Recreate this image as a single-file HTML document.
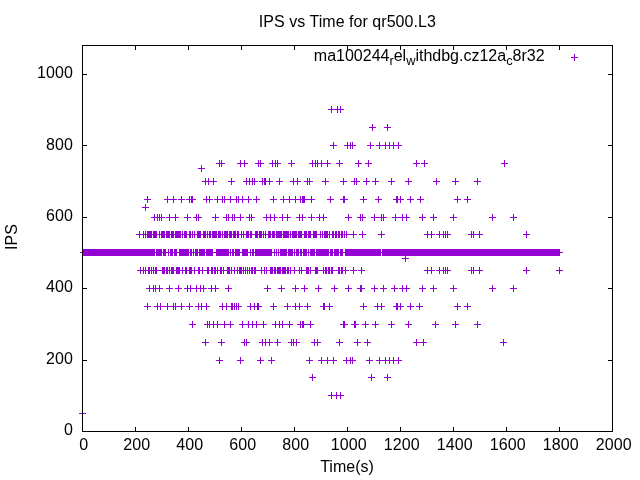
<!DOCTYPE html>
<html><head><meta charset="utf-8"><title>IPS vs Time for qr500.L3</title>
<style>
html,body{margin:0;padding:0;background:#fff;}
body{width:640px;height:480px;overflow:hidden;}
svg{display:block;will-change:transform;}
text{font-family:"Liberation Sans",sans-serif;font-size:16px;fill:#000;}
</style></head><body>
<svg width="640" height="480" viewBox="0 0 640 480">
<rect x="0" y="0" width="640" height="480" fill="#fff"/>
<g fill="#9400d3" shape-rendering="crispEdges">
<rect x="331" y="106" width="1" height="7"/><rect x="337" y="106" width="1" height="7"/><rect x="340" y="106" width="1" height="7"/><rect x="328" y="109" width="16" height="1"/>
<rect x="372" y="124" width="1" height="7"/><rect x="387" y="124" width="1" height="7"/><rect x="369" y="127" width="7" height="1"/><rect x="384" y="127" width="7" height="1"/>
<rect x="333" y="142" width="1" height="7"/><rect x="347" y="142" width="1" height="7"/><rect x="350" y="142" width="1" height="7"/><rect x="352" y="142" width="1" height="7"/><rect x="370" y="142" width="1" height="7"/><rect x="379" y="142" width="1" height="7"/><rect x="385" y="142" width="1" height="7"/><rect x="389" y="142" width="1" height="7"/><rect x="393" y="142" width="1" height="7"/><rect x="398" y="142" width="1" height="7"/><rect x="330" y="145" width="7" height="1"/><rect x="344" y="145" width="12" height="1"/><rect x="367" y="145" width="7" height="1"/><rect x="376" y="145" width="26" height="1"/>
<rect x="219" y="160" width="1" height="7"/><rect x="221" y="160" width="1" height="7"/><rect x="240" y="160" width="1" height="7"/><rect x="244" y="160" width="1" height="7"/><rect x="258" y="160" width="1" height="7"/><rect x="260" y="160" width="1" height="7"/><rect x="272" y="160" width="1" height="7"/><rect x="275" y="160" width="1" height="7"/><rect x="277" y="160" width="1" height="7"/><rect x="291" y="160" width="1" height="7"/><rect x="312" y="160" width="1" height="7"/><rect x="315" y="160" width="1" height="7"/><rect x="317" y="160" width="1" height="7"/><rect x="321" y="160" width="1" height="7"/><rect x="327" y="160" width="1" height="7"/><rect x="339" y="160" width="1" height="7"/><rect x="358" y="160" width="1" height="7"/><rect x="368" y="160" width="1" height="7"/><rect x="416" y="160" width="1" height="7"/><rect x="424" y="160" width="1" height="7"/><rect x="504" y="160" width="1" height="7"/><rect x="216" y="163" width="9" height="1"/><rect x="237" y="163" width="11" height="1"/><rect x="255" y="163" width="9" height="1"/><rect x="269" y="163" width="12" height="1"/><rect x="288" y="163" width="7" height="1"/><rect x="309" y="163" width="22" height="1"/><rect x="336" y="163" width="7" height="1"/><rect x="355" y="163" width="7" height="1"/><rect x="365" y="163" width="7" height="1"/><rect x="413" y="163" width="7" height="1"/><rect x="421" y="163" width="7" height="1"/><rect x="501" y="163" width="7" height="1"/>
<rect x="201" y="165" width="1" height="7"/><rect x="198" y="168" width="7" height="1"/>
<rect x="205" y="178" width="1" height="7"/><rect x="208" y="178" width="1" height="7"/><rect x="213" y="178" width="1" height="7"/><rect x="231" y="178" width="1" height="7"/><rect x="246" y="178" width="1" height="7"/><rect x="249" y="178" width="1" height="7"/><rect x="252" y="178" width="1" height="7"/><rect x="254" y="178" width="1" height="7"/><rect x="262" y="178" width="1" height="7"/><rect x="264" y="178" width="2" height="7"/><rect x="269" y="178" width="1" height="7"/><rect x="279" y="178" width="1" height="7"/><rect x="293" y="178" width="1" height="7"/><rect x="297" y="178" width="1" height="7"/><rect x="307" y="178" width="1" height="7"/><rect x="309" y="178" width="1" height="7"/><rect x="325" y="178" width="1" height="7"/><rect x="343" y="178" width="1" height="7"/><rect x="354" y="178" width="1" height="7"/><rect x="356" y="178" width="1" height="7"/><rect x="366" y="178" width="1" height="7"/><rect x="375" y="178" width="1" height="7"/><rect x="391" y="178" width="1" height="7"/><rect x="408" y="178" width="1" height="7"/><rect x="436" y="178" width="1" height="7"/><rect x="455" y="178" width="1" height="7"/><rect x="477" y="178" width="1" height="7"/><rect x="202" y="181" width="15" height="1"/><rect x="228" y="181" width="7" height="1"/><rect x="243" y="181" width="15" height="1"/><rect x="259" y="181" width="14" height="1"/><rect x="276" y="181" width="7" height="1"/><rect x="290" y="181" width="11" height="1"/><rect x="304" y="181" width="9" height="1"/><rect x="322" y="181" width="7" height="1"/><rect x="340" y="181" width="7" height="1"/><rect x="351" y="181" width="9" height="1"/><rect x="363" y="181" width="7" height="1"/><rect x="372" y="181" width="7" height="1"/><rect x="388" y="181" width="7" height="1"/><rect x="405" y="181" width="7" height="1"/><rect x="433" y="181" width="7" height="1"/><rect x="452" y="181" width="7" height="1"/><rect x="474" y="181" width="7" height="1"/>
<rect x="147" y="196" width="1" height="7"/><rect x="167" y="196" width="1" height="7"/><rect x="173" y="196" width="1" height="7"/><rect x="181" y="196" width="1" height="7"/><rect x="189" y="196" width="1" height="7"/><rect x="191" y="196" width="2" height="7"/><rect x="206" y="196" width="1" height="7"/><rect x="209" y="196" width="1" height="7"/><rect x="217" y="196" width="1" height="7"/><rect x="222" y="196" width="1" height="7"/><rect x="224" y="196" width="1" height="7"/><rect x="230" y="196" width="1" height="7"/><rect x="236" y="196" width="1" height="7"/><rect x="238" y="196" width="1" height="7"/><rect x="242" y="196" width="1" height="7"/><rect x="248" y="196" width="1" height="7"/><rect x="256" y="196" width="1" height="7"/><rect x="273" y="196" width="1" height="7"/><rect x="283" y="196" width="1" height="7"/><rect x="289" y="196" width="1" height="7"/><rect x="295" y="196" width="1" height="7"/><rect x="300" y="196" width="1" height="7"/><rect x="302" y="196" width="3" height="7"/><rect x="311" y="196" width="1" height="7"/><rect x="330" y="196" width="1" height="7"/><rect x="343" y="196" width="2" height="7"/><rect x="363" y="196" width="1" height="7"/><rect x="378" y="196" width="1" height="7"/><rect x="396" y="196" width="2" height="7"/><rect x="400" y="196" width="1" height="7"/><rect x="410" y="196" width="1" height="7"/><rect x="420" y="196" width="1" height="7"/><rect x="457" y="196" width="1" height="7"/><rect x="467" y="196" width="1" height="7"/><rect x="144" y="199" width="7" height="1"/><rect x="164" y="199" width="13" height="1"/><rect x="178" y="199" width="7" height="1"/><rect x="186" y="199" width="10" height="1"/><rect x="203" y="199" width="10" height="1"/><rect x="214" y="199" width="38" height="1"/><rect x="253" y="199" width="7" height="1"/><rect x="270" y="199" width="7" height="1"/><rect x="280" y="199" width="35" height="1"/><rect x="327" y="199" width="7" height="1"/><rect x="340" y="199" width="8" height="1"/><rect x="360" y="199" width="7" height="1"/><rect x="375" y="199" width="7" height="1"/><rect x="393" y="199" width="11" height="1"/><rect x="407" y="199" width="7" height="1"/><rect x="417" y="199" width="7" height="1"/><rect x="454" y="199" width="7" height="1"/><rect x="464" y="199" width="7" height="1"/>
<rect x="145" y="204" width="1" height="7"/><rect x="142" y="207" width="7" height="1"/>
<rect x="154" y="214" width="1" height="7"/><rect x="157" y="214" width="1" height="7"/><rect x="159" y="214" width="1" height="7"/><rect x="161" y="214" width="1" height="7"/><rect x="169" y="214" width="1" height="7"/><rect x="175" y="214" width="1" height="7"/><rect x="187" y="214" width="1" height="7"/><rect x="196" y="214" width="1" height="7"/><rect x="198" y="214" width="1" height="7"/><rect x="215" y="214" width="1" height="7"/><rect x="226" y="214" width="1" height="7"/><rect x="228" y="214" width="1" height="7"/><rect x="232" y="214" width="1" height="7"/><rect x="234" y="214" width="1" height="7"/><rect x="240" y="214" width="1" height="7"/><rect x="249" y="214" width="1" height="7"/><rect x="251" y="214" width="1" height="7"/><rect x="266" y="214" width="1" height="7"/><rect x="270" y="214" width="1" height="7"/><rect x="274" y="214" width="1" height="7"/><rect x="282" y="214" width="1" height="7"/><rect x="287" y="214" width="1" height="7"/><rect x="299" y="214" width="1" height="7"/><rect x="302" y="214" width="1" height="7"/><rect x="311" y="214" width="1" height="7"/><rect x="319" y="214" width="1" height="7"/><rect x="323" y="214" width="1" height="7"/><rect x="348" y="214" width="1" height="7"/><rect x="360" y="214" width="1" height="7"/><rect x="362" y="214" width="1" height="7"/><rect x="374" y="214" width="1" height="7"/><rect x="381" y="214" width="1" height="7"/><rect x="383" y="214" width="1" height="7"/><rect x="395" y="214" width="1" height="7"/><rect x="402" y="214" width="1" height="7"/><rect x="406" y="214" width="1" height="7"/><rect x="422" y="214" width="1" height="7"/><rect x="433" y="214" width="1" height="7"/><rect x="453" y="214" width="1" height="7"/><rect x="492" y="214" width="1" height="7"/><rect x="513" y="214" width="1" height="7"/><rect x="151" y="217" width="14" height="1"/><rect x="166" y="217" width="13" height="1"/><rect x="184" y="217" width="7" height="1"/><rect x="193" y="217" width="9" height="1"/><rect x="212" y="217" width="7" height="1"/><rect x="223" y="217" width="21" height="1"/><rect x="246" y="217" width="9" height="1"/><rect x="263" y="217" width="15" height="1"/><rect x="279" y="217" width="12" height="1"/><rect x="296" y="217" width="10" height="1"/><rect x="308" y="217" width="7" height="1"/><rect x="316" y="217" width="11" height="1"/><rect x="345" y="217" width="7" height="1"/><rect x="357" y="217" width="9" height="1"/><rect x="371" y="217" width="16" height="1"/><rect x="392" y="217" width="18" height="1"/><rect x="419" y="217" width="7" height="1"/><rect x="430" y="217" width="7" height="1"/><rect x="450" y="217" width="7" height="1"/><rect x="489" y="217" width="7" height="1"/><rect x="510" y="217" width="7" height="1"/>
<rect x="139" y="231" width="1" height="7"/><rect x="143" y="231" width="1" height="7"/><rect x="145" y="231" width="1" height="7"/><rect x="147" y="231" width="5" height="7"/><rect x="153" y="231" width="4" height="7"/><rect x="159" y="231" width="1" height="7"/><rect x="161" y="231" width="4" height="7"/><rect x="166" y="231" width="4" height="7"/><rect x="171" y="231" width="3" height="7"/><rect x="175" y="231" width="6" height="7"/><rect x="182" y="231" width="1" height="7"/><rect x="184" y="231" width="3" height="7"/><rect x="189" y="231" width="2" height="7"/><rect x="192" y="231" width="1" height="7"/><rect x="194" y="231" width="1" height="7"/><rect x="197" y="231" width="4" height="7"/><rect x="203" y="231" width="3" height="7"/><rect x="207" y="231" width="1" height="7"/><rect x="209" y="231" width="2" height="7"/><rect x="212" y="231" width="5" height="7"/><rect x="218" y="231" width="3" height="7"/><rect x="222" y="231" width="1" height="7"/><rect x="224" y="231" width="4" height="7"/><rect x="229" y="231" width="3" height="7"/><rect x="233" y="231" width="3" height="7"/><rect x="237" y="231" width="2" height="7"/><rect x="241" y="231" width="1" height="7"/><rect x="243" y="231" width="1" height="7"/><rect x="246" y="231" width="3" height="7"/><rect x="250" y="231" width="2" height="7"/><rect x="255" y="231" width="3" height="7"/><rect x="259" y="231" width="3" height="7"/><rect x="263" y="231" width="1" height="7"/><rect x="265" y="231" width="1" height="7"/><rect x="268" y="231" width="3" height="7"/><rect x="272" y="231" width="3" height="7"/><rect x="276" y="231" width="6" height="7"/><rect x="283" y="231" width="6" height="7"/><rect x="290" y="231" width="1" height="7"/><rect x="292" y="231" width="5" height="7"/><rect x="298" y="231" width="4" height="7"/><rect x="304" y="231" width="3" height="7"/><rect x="308" y="231" width="3" height="7"/><rect x="313" y="231" width="4" height="7"/><rect x="320" y="231" width="1" height="7"/><rect x="322" y="231" width="1" height="7"/><rect x="324" y="231" width="4" height="7"/><rect x="329" y="231" width="1" height="7"/><rect x="332" y="231" width="2" height="7"/><rect x="335" y="231" width="2" height="7"/><rect x="338" y="231" width="2" height="7"/><rect x="341" y="231" width="2" height="7"/><rect x="344" y="231" width="1" height="7"/><rect x="346" y="231" width="1" height="7"/><rect x="353" y="231" width="1" height="7"/><rect x="362" y="231" width="1" height="7"/><rect x="381" y="231" width="1" height="7"/><rect x="427" y="231" width="1" height="7"/><rect x="431" y="231" width="1" height="7"/><rect x="439" y="231" width="1" height="7"/><rect x="443" y="231" width="1" height="7"/><rect x="445" y="231" width="1" height="7"/><rect x="447" y="231" width="1" height="7"/><rect x="471" y="231" width="1" height="7"/><rect x="473" y="231" width="1" height="7"/><rect x="479" y="231" width="1" height="7"/><rect x="526" y="231" width="1" height="7"/><rect x="136" y="234" width="221" height="1"/><rect x="359" y="234" width="7" height="1"/><rect x="378" y="234" width="7" height="1"/><rect x="424" y="234" width="11" height="1"/><rect x="436" y="234" width="15" height="1"/><rect x="468" y="234" width="15" height="1"/><rect x="523" y="234" width="7" height="1"/>
<rect x="83" y="249" width="72" height="7"/><rect x="156" y="249" width="6" height="7"/><rect x="163" y="249" width="3" height="7"/><rect x="168" y="249" width="1" height="7"/><rect x="170" y="249" width="3" height="7"/><rect x="174" y="249" width="3" height="7"/><rect x="179" y="249" width="10" height="7"/><rect x="190" y="249" width="2" height="7"/><rect x="193" y="249" width="1" height="7"/><rect x="195" y="249" width="3" height="7"/><rect x="199" y="249" width="6" height="7"/><rect x="206" y="249" width="7" height="7"/><rect x="216" y="249" width="13" height="7"/><rect x="230" y="249" width="1" height="7"/><rect x="232" y="249" width="2" height="7"/><rect x="235" y="249" width="5" height="7"/><rect x="242" y="249" width="6" height="7"/><rect x="250" y="249" width="1" height="7"/><rect x="252" y="249" width="2" height="7"/><rect x="255" y="249" width="17" height="7"/><rect x="274" y="249" width="1" height="7"/><rect x="276" y="249" width="1" height="7"/><rect x="278" y="249" width="1" height="7"/><rect x="280" y="249" width="7" height="7"/><rect x="288" y="249" width="5" height="7"/><rect x="294" y="249" width="1" height="7"/><rect x="296" y="249" width="3" height="7"/><rect x="300" y="249" width="2" height="7"/><rect x="303" y="249" width="4" height="7"/><rect x="308" y="249" width="1" height="7"/><rect x="310" y="249" width="5" height="7"/><rect x="316" y="249" width="13" height="7"/><rect x="330" y="249" width="3" height="7"/><rect x="334" y="249" width="5" height="7"/><rect x="340" y="249" width="3" height="7"/><rect x="345" y="249" width="36" height="7"/><rect x="382" y="249" width="178" height="7"/><rect x="80" y="252" width="483" height="1"/>
<rect x="405" y="255" width="1" height="7"/><rect x="402" y="258" width="7" height="1"/>
<rect x="140" y="267" width="1" height="7"/><rect x="143" y="267" width="1" height="7"/><rect x="145" y="267" width="1" height="7"/><rect x="148" y="267" width="2" height="7"/><rect x="151" y="267" width="1" height="7"/><rect x="153" y="267" width="1" height="7"/><rect x="155" y="267" width="2" height="7"/><rect x="162" y="267" width="3" height="7"/><rect x="166" y="267" width="2" height="7"/><rect x="169" y="267" width="1" height="7"/><rect x="171" y="267" width="3" height="7"/><rect x="176" y="267" width="4" height="7"/><rect x="182" y="267" width="1" height="7"/><rect x="185" y="267" width="2" height="7"/><rect x="189" y="267" width="3" height="7"/><rect x="194" y="267" width="1" height="7"/><rect x="198" y="267" width="2" height="7"/><rect x="202" y="267" width="1" height="7"/><rect x="207" y="267" width="2" height="7"/><rect x="211" y="267" width="2" height="7"/><rect x="214" y="267" width="2" height="7"/><rect x="217" y="267" width="1" height="7"/><rect x="220" y="267" width="2" height="7"/><rect x="223" y="267" width="1" height="7"/><rect x="227" y="267" width="3" height="7"/><rect x="231" y="267" width="1" height="7"/><rect x="234" y="267" width="1" height="7"/><rect x="237" y="267" width="1" height="7"/><rect x="239" y="267" width="3" height="7"/><rect x="243" y="267" width="1" height="7"/><rect x="245" y="267" width="1" height="7"/><rect x="247" y="267" width="1" height="7"/><rect x="249" y="267" width="1" height="7"/><rect x="251" y="267" width="2" height="7"/><rect x="254" y="267" width="2" height="7"/><rect x="261" y="267" width="1" height="7"/><rect x="264" y="267" width="1" height="7"/><rect x="266" y="267" width="1" height="7"/><rect x="270" y="267" width="3" height="7"/><rect x="274" y="267" width="2" height="7"/><rect x="277" y="267" width="4" height="7"/><rect x="282" y="267" width="4" height="7"/><rect x="287" y="267" width="2" height="7"/><rect x="290" y="267" width="1" height="7"/><rect x="294" y="267" width="1" height="7"/><rect x="299" y="267" width="1" height="7"/><rect x="301" y="267" width="1" height="7"/><rect x="306" y="267" width="3" height="7"/><rect x="310" y="267" width="1" height="7"/><rect x="315" y="267" width="3" height="7"/><rect x="323" y="267" width="1" height="7"/><rect x="325" y="267" width="2" height="7"/><rect x="328" y="267" width="2" height="7"/><rect x="331" y="267" width="2" height="7"/><rect x="338" y="267" width="2" height="7"/><rect x="341" y="267" width="2" height="7"/><rect x="345" y="267" width="1" height="7"/><rect x="353" y="267" width="1" height="7"/><rect x="361" y="267" width="1" height="7"/><rect x="427" y="267" width="1" height="7"/><rect x="431" y="267" width="1" height="7"/><rect x="439" y="267" width="1" height="7"/><rect x="443" y="267" width="1" height="7"/><rect x="445" y="267" width="1" height="7"/><rect x="447" y="267" width="1" height="7"/><rect x="471" y="267" width="1" height="7"/><rect x="473" y="267" width="1" height="7"/><rect x="479" y="267" width="1" height="7"/><rect x="526" y="267" width="1" height="7"/><rect x="559" y="267" width="1" height="7"/><rect x="137" y="270" width="212" height="1"/><rect x="350" y="270" width="7" height="1"/><rect x="358" y="270" width="7" height="1"/><rect x="424" y="270" width="11" height="1"/><rect x="436" y="270" width="15" height="1"/><rect x="468" y="270" width="15" height="1"/><rect x="523" y="270" width="7" height="1"/><rect x="556" y="270" width="7" height="1"/>
<rect x="149" y="285" width="1" height="7"/><rect x="153" y="285" width="1" height="7"/><rect x="155" y="285" width="1" height="7"/><rect x="159" y="285" width="1" height="7"/><rect x="169" y="285" width="1" height="7"/><rect x="178" y="285" width="1" height="7"/><rect x="187" y="285" width="1" height="7"/><rect x="190" y="285" width="1" height="7"/><rect x="196" y="285" width="1" height="7"/><rect x="200" y="285" width="1" height="7"/><rect x="203" y="285" width="1" height="7"/><rect x="211" y="285" width="1" height="7"/><rect x="215" y="285" width="1" height="7"/><rect x="228" y="285" width="1" height="7"/><rect x="267" y="285" width="1" height="7"/><rect x="281" y="285" width="1" height="7"/><rect x="295" y="285" width="1" height="7"/><rect x="304" y="285" width="1" height="7"/><rect x="318" y="285" width="1" height="7"/><rect x="334" y="285" width="1" height="7"/><rect x="348" y="285" width="1" height="7"/><rect x="360" y="285" width="2" height="7"/><rect x="374" y="285" width="1" height="7"/><rect x="383" y="285" width="1" height="7"/><rect x="394" y="285" width="1" height="7"/><rect x="402" y="285" width="1" height="7"/><rect x="406" y="285" width="1" height="7"/><rect x="422" y="285" width="1" height="7"/><rect x="433" y="285" width="1" height="7"/><rect x="453" y="285" width="1" height="7"/><rect x="492" y="285" width="1" height="7"/><rect x="513" y="285" width="1" height="7"/><rect x="146" y="288" width="17" height="1"/><rect x="166" y="288" width="7" height="1"/><rect x="175" y="288" width="7" height="1"/><rect x="184" y="288" width="23" height="1"/><rect x="208" y="288" width="11" height="1"/><rect x="225" y="288" width="7" height="1"/><rect x="264" y="288" width="7" height="1"/><rect x="278" y="288" width="7" height="1"/><rect x="292" y="288" width="7" height="1"/><rect x="301" y="288" width="7" height="1"/><rect x="315" y="288" width="7" height="1"/><rect x="331" y="288" width="7" height="1"/><rect x="345" y="288" width="7" height="1"/><rect x="357" y="288" width="8" height="1"/><rect x="371" y="288" width="7" height="1"/><rect x="380" y="288" width="7" height="1"/><rect x="391" y="288" width="7" height="1"/><rect x="399" y="288" width="11" height="1"/><rect x="419" y="288" width="7" height="1"/><rect x="430" y="288" width="7" height="1"/><rect x="450" y="288" width="7" height="1"/><rect x="489" y="288" width="7" height="1"/><rect x="510" y="288" width="7" height="1"/>
<rect x="147" y="303" width="1" height="7"/><rect x="157" y="303" width="1" height="7"/><rect x="160" y="303" width="1" height="7"/><rect x="167" y="303" width="1" height="7"/><rect x="173" y="303" width="1" height="7"/><rect x="175" y="303" width="1" height="7"/><rect x="181" y="303" width="1" height="7"/><rect x="189" y="303" width="1" height="7"/><rect x="198" y="303" width="1" height="7"/><rect x="201" y="303" width="1" height="7"/><rect x="206" y="303" width="1" height="7"/><rect x="222" y="303" width="1" height="7"/><rect x="226" y="303" width="1" height="7"/><rect x="231" y="303" width="2" height="7"/><rect x="234" y="303" width="1" height="7"/><rect x="236" y="303" width="1" height="7"/><rect x="238" y="303" width="1" height="7"/><rect x="250" y="303" width="1" height="7"/><rect x="254" y="303" width="1" height="7"/><rect x="257" y="303" width="2" height="7"/><rect x="273" y="303" width="1" height="7"/><rect x="287" y="303" width="1" height="7"/><rect x="295" y="303" width="1" height="7"/><rect x="299" y="303" width="1" height="7"/><rect x="307" y="303" width="1" height="7"/><rect x="323" y="303" width="2" height="7"/><rect x="329" y="303" width="1" height="7"/><rect x="363" y="303" width="1" height="7"/><rect x="377" y="303" width="1" height="7"/><rect x="381" y="303" width="1" height="7"/><rect x="396" y="303" width="2" height="7"/><rect x="400" y="303" width="1" height="7"/><rect x="410" y="303" width="1" height="7"/><rect x="419" y="303" width="1" height="7"/><rect x="457" y="303" width="1" height="7"/><rect x="467" y="303" width="1" height="7"/><rect x="144" y="306" width="7" height="1"/><rect x="154" y="306" width="31" height="1"/><rect x="186" y="306" width="7" height="1"/><rect x="195" y="306" width="15" height="1"/><rect x="219" y="306" width="23" height="1"/><rect x="247" y="306" width="15" height="1"/><rect x="270" y="306" width="7" height="1"/><rect x="284" y="306" width="7" height="1"/><rect x="292" y="306" width="11" height="1"/><rect x="304" y="306" width="7" height="1"/><rect x="320" y="306" width="13" height="1"/><rect x="360" y="306" width="7" height="1"/><rect x="374" y="306" width="11" height="1"/><rect x="393" y="306" width="11" height="1"/><rect x="407" y="306" width="7" height="1"/><rect x="416" y="306" width="7" height="1"/><rect x="454" y="306" width="7" height="1"/><rect x="464" y="306" width="7" height="1"/>
<rect x="192" y="321" width="1" height="7"/><rect x="207" y="321" width="1" height="7"/><rect x="209" y="321" width="1" height="7"/><rect x="213" y="321" width="1" height="7"/><rect x="217" y="321" width="1" height="7"/><rect x="224" y="321" width="1" height="7"/><rect x="230" y="321" width="1" height="7"/><rect x="242" y="321" width="1" height="7"/><rect x="248" y="321" width="1" height="7"/><rect x="252" y="321" width="1" height="7"/><rect x="256" y="321" width="1" height="7"/><rect x="263" y="321" width="1" height="7"/><rect x="275" y="321" width="1" height="7"/><rect x="279" y="321" width="1" height="7"/><rect x="282" y="321" width="1" height="7"/><rect x="289" y="321" width="1" height="7"/><rect x="300" y="321" width="1" height="7"/><rect x="302" y="321" width="2" height="7"/><rect x="310" y="321" width="1" height="7"/><rect x="343" y="321" width="2" height="7"/><rect x="354" y="321" width="2" height="7"/><rect x="365" y="321" width="1" height="7"/><rect x="375" y="321" width="1" height="7"/><rect x="391" y="321" width="1" height="7"/><rect x="408" y="321" width="1" height="7"/><rect x="435" y="321" width="1" height="7"/><rect x="455" y="321" width="1" height="7"/><rect x="477" y="321" width="1" height="7"/><rect x="189" y="324" width="7" height="1"/><rect x="204" y="324" width="30" height="1"/><rect x="239" y="324" width="28" height="1"/><rect x="272" y="324" width="21" height="1"/><rect x="297" y="324" width="17" height="1"/><rect x="340" y="324" width="8" height="1"/><rect x="351" y="324" width="8" height="1"/><rect x="362" y="324" width="7" height="1"/><rect x="372" y="324" width="7" height="1"/><rect x="388" y="324" width="7" height="1"/><rect x="405" y="324" width="7" height="1"/><rect x="432" y="324" width="7" height="1"/><rect x="452" y="324" width="7" height="1"/><rect x="474" y="324" width="7" height="1"/>
<rect x="205" y="339" width="1" height="7"/><rect x="221" y="339" width="1" height="7"/><rect x="244" y="339" width="1" height="7"/><rect x="246" y="339" width="1" height="7"/><rect x="262" y="339" width="1" height="7"/><rect x="265" y="339" width="1" height="7"/><rect x="269" y="339" width="1" height="7"/><rect x="277" y="339" width="1" height="7"/><rect x="291" y="339" width="1" height="7"/><rect x="293" y="339" width="1" height="7"/><rect x="296" y="339" width="1" height="7"/><rect x="314" y="339" width="1" height="7"/><rect x="317" y="339" width="1" height="7"/><rect x="339" y="339" width="1" height="7"/><rect x="357" y="339" width="1" height="7"/><rect x="367" y="339" width="1" height="7"/><rect x="416" y="339" width="1" height="7"/><rect x="423" y="339" width="1" height="7"/><rect x="503" y="339" width="1" height="7"/><rect x="202" y="342" width="7" height="1"/><rect x="218" y="342" width="7" height="1"/><rect x="241" y="342" width="9" height="1"/><rect x="259" y="342" width="14" height="1"/><rect x="274" y="342" width="7" height="1"/><rect x="288" y="342" width="12" height="1"/><rect x="311" y="342" width="10" height="1"/><rect x="336" y="342" width="7" height="1"/><rect x="354" y="342" width="7" height="1"/><rect x="364" y="342" width="7" height="1"/><rect x="413" y="342" width="14" height="1"/><rect x="500" y="342" width="7" height="1"/>
<rect x="219" y="357" width="1" height="7"/><rect x="240" y="357" width="1" height="7"/><rect x="260" y="357" width="1" height="7"/><rect x="271" y="357" width="1" height="7"/><rect x="309" y="357" width="1" height="7"/><rect x="321" y="357" width="1" height="7"/><rect x="327" y="357" width="1" height="7"/><rect x="333" y="357" width="1" height="7"/><rect x="346" y="357" width="1" height="7"/><rect x="350" y="357" width="1" height="7"/><rect x="352" y="357" width="1" height="7"/><rect x="369" y="357" width="1" height="7"/><rect x="379" y="357" width="1" height="7"/><rect x="385" y="357" width="1" height="7"/><rect x="389" y="357" width="1" height="7"/><rect x="393" y="357" width="1" height="7"/><rect x="398" y="357" width="1" height="7"/><rect x="216" y="360" width="7" height="1"/><rect x="237" y="360" width="7" height="1"/><rect x="257" y="360" width="7" height="1"/><rect x="268" y="360" width="7" height="1"/><rect x="306" y="360" width="7" height="1"/><rect x="318" y="360" width="19" height="1"/><rect x="343" y="360" width="13" height="1"/><rect x="366" y="360" width="7" height="1"/><rect x="376" y="360" width="26" height="1"/>
<rect x="312" y="374" width="1" height="7"/><rect x="371" y="374" width="1" height="7"/><rect x="387" y="374" width="1" height="7"/><rect x="309" y="377" width="7" height="1"/><rect x="368" y="377" width="7" height="1"/><rect x="384" y="377" width="7" height="1"/>
<rect x="331" y="392" width="1" height="7"/><rect x="336" y="392" width="1" height="7"/><rect x="340" y="392" width="1" height="7"/><rect x="328" y="395" width="16" height="1"/>
<rect x="82" y="410" width="1" height="7"/><rect x="79" y="413" width="7" height="1"/>
</g>
<g fill="#9400d3" shape-rendering="crispEdges"><rect x="571" y="57" width="7" height="1"/><rect x="574" y="54" width="1" height="7"/></g>
<g fill="#000" shape-rendering="crispEdges">
<rect x="82" y="45" width="531" height="1"/><rect x="82" y="431" width="531" height="1"/><rect x="82" y="45" width="1" height="387"/><rect x="612" y="45" width="1" height="387"/>
<rect x="135" y="427" width="1" height="5"/><rect x="135" y="45" width="1" height="5"/><rect x="188" y="427" width="1" height="5"/><rect x="188" y="45" width="1" height="5"/><rect x="241" y="427" width="1" height="5"/><rect x="241" y="45" width="1" height="5"/><rect x="294" y="427" width="1" height="5"/><rect x="294" y="45" width="1" height="5"/><rect x="347" y="427" width="1" height="5"/><rect x="347" y="45" width="1" height="5"/><rect x="400" y="427" width="1" height="5"/><rect x="400" y="45" width="1" height="5"/><rect x="453" y="427" width="1" height="5"/><rect x="453" y="45" width="1" height="5"/><rect x="506" y="427" width="1" height="5"/><rect x="506" y="45" width="1" height="5"/><rect x="559" y="427" width="1" height="5"/><rect x="559" y="45" width="1" height="5"/>
<rect x="82" y="360" width="5" height="1"/><rect x="608" y="360" width="5" height="1"/><rect x="82" y="288" width="5" height="1"/><rect x="608" y="288" width="5" height="1"/><rect x="82" y="217" width="5" height="1"/><rect x="608" y="217" width="5" height="1"/><rect x="82" y="145" width="5" height="1"/><rect x="608" y="145" width="5" height="1"/><rect x="82" y="74" width="5" height="1"/><rect x="608" y="74" width="5" height="1"/>
</g>
<g>
<text x="83.7" y="450.2" text-anchor="middle" textLength="9">0</text><text x="136.7" y="450.2" text-anchor="middle" textLength="27">200</text><text x="189.7" y="450.2" text-anchor="middle" textLength="27">400</text><text x="242.7" y="450.2" text-anchor="middle" textLength="27">600</text><text x="295.7" y="450.2" text-anchor="middle" textLength="27">800</text><text x="348.7" y="450.2" text-anchor="middle" textLength="36">1000</text><text x="401.7" y="450.2" text-anchor="middle" textLength="36">1200</text><text x="454.7" y="450.2" text-anchor="middle" textLength="36">1400</text><text x="507.7" y="450.2" text-anchor="middle" textLength="36">1600</text><text x="560.7" y="450.2" text-anchor="middle" textLength="36">1800</text><text x="613.7" y="450.2" text-anchor="middle" textLength="36">2000</text>
<text x="72.9" y="435.2" text-anchor="end" textLength="9">0</text><text x="72.9" y="363.8" text-anchor="end" textLength="27">200</text><text x="72.9" y="292.4" text-anchor="end" textLength="27">400</text><text x="72.9" y="221.0" text-anchor="end" textLength="27">600</text><text x="72.9" y="149.6" text-anchor="end" textLength="27">800</text><text x="72.9" y="78.2" text-anchor="end" textLength="36">1000</text>
<text x="347.3" y="26.8" text-anchor="middle" textLength="177">IPS vs Time for qr500.L3</text>
<text x="347" y="472" text-anchor="middle">Time(s)</text>
<text transform="translate(17,237) rotate(-90)" text-anchor="middle">IPS</text>
<text x="544.6" y="61" text-anchor="end">ma100244<tspan font-size="12.8" dy="3.6">r</tspan><tspan dy="-3.6">el</tspan><tspan font-size="12.8" dy="3.6">w</tspan><tspan dy="-3.6">ithdbg.cz12a</tspan><tspan font-size="12.8" dy="3.6">c</tspan><tspan dy="-3.6">8r32</tspan></text>
</g>
</svg>
</body></html>
